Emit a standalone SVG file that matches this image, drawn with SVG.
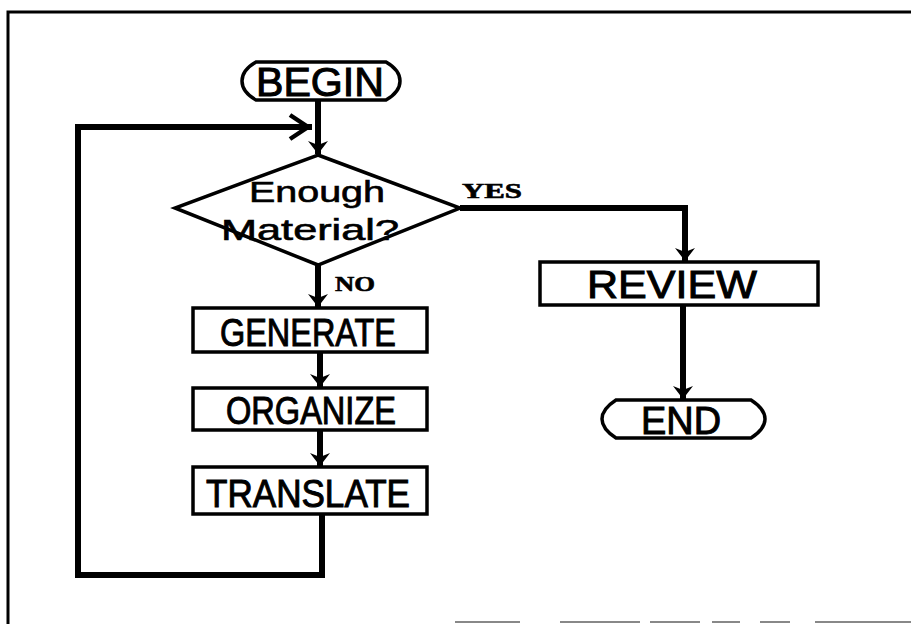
<svg xmlns="http://www.w3.org/2000/svg" width="911" height="624" viewBox="0 0 911 624">
  <style>
    .frame { fill: none; stroke: #000; stroke-width: 3; }
    .shape { fill: #fff; stroke: #000; stroke-width: 3.5; stroke-linejoin: miter; }
    .wire { fill: none; stroke: #000; stroke-width: 6; stroke-linejoin: miter; stroke-linecap: butt; }
    .label { font-family: "Liberation Sans", Arial, sans-serif; fill: #000; stroke: #000; stroke-width: 1; text-anchor: middle; }
    .small { stroke-width: 0.6; }
    .tag { font-family: "Liberation Serif", "Times New Roman", serif; font-weight: bold; fill: #000; stroke: #000; stroke-width: 0.6; font-size: 21px; }
  </style>
  <defs>
    <!-- small filled arrowhead, drawn pointing along +x -->
    <marker id="head" viewBox="0 0 13 20" refX="13" refY="10" markerWidth="13" markerHeight="20" markerUnits="userSpaceOnUse" orient="auto">
      <path d="M0,0 L13,10 L0,20 L4,10 Z" fill="#000"/>
    </marker>
  </defs>

  <rect width="911" height="624" fill="#fff"/>

  <!-- page border -->
  <path class="frame" d="M8,624 L8,12 L911,12"/>
  <path d="M455,622 H520 M560,622 H640 M650,622 H700 M712,622 H740 M760,622 H790 M815,622 H911" stroke="#888" stroke-width="2" fill="none"/>

  <!-- connectors -->
  <g id="connectors">
    <path class="wire" d="M318,100 V154" marker-end="url(#head)"/>
    <path class="wire" d="M322,514 V575 H78 V127 H312"/>
    <path d="M290,115 L308,127 L290,139" fill="none" stroke="#000" stroke-width="4.5"/>
    <path class="wire" d="M460,208 H685 V261" marker-end="url(#head)"/>
    <path class="wire" d="M683,305 V399" marker-end="url(#head)"/>
    <path class="wire" d="M318,265 V307" marker-end="url(#head)"/>
    <path class="wire" d="M320,352 V387" marker-end="url(#head)"/>
    <path class="wire" d="M320,430 V466" marker-end="url(#head)"/>
    <text class="tag" x="462" y="198" textLength="60" lengthAdjust="spacingAndGlyphs">YES</text>
    <text class="tag" x="335" y="291" textLength="40" lengthAdjust="spacingAndGlyphs">NO</text>
  </g>

  <g id="begin">
    <path class="shape" d="M256,62 H386 Q400,70 400,81 Q400,92 386,100 H256 Q242,92 242,81 Q242,70 256,62 Z"/>
    <text class="label" x="320" y="96" font-size="40" textLength="128" lengthAdjust="spacingAndGlyphs">BEGIN</text>
  </g>

  <g id="decision">
    <path class="shape" d="M318,155 L460,208 L318,265 L175,208 Z"/>
    <text class="label small" x="317" y="202" font-size="29" textLength="136" lengthAdjust="spacingAndGlyphs">Enough</text>
    <text class="label small" x="310" y="240" font-size="29" textLength="178" lengthAdjust="spacingAndGlyphs">Material?</text>
  </g>

  <g id="generate">
    <rect class="shape" x="193" y="308" width="234" height="44"/>
    <text class="label" x="308" y="346" font-size="39" textLength="176" lengthAdjust="spacingAndGlyphs">GENERATE</text>
  </g>

  <g id="organize">
    <rect class="shape" x="193" y="388" width="234" height="42"/>
    <text class="label" x="311" y="424" font-size="39" textLength="170" lengthAdjust="spacingAndGlyphs">ORGANIZE</text>
  </g>

  <g id="translate">
    <rect class="shape" x="193" y="467" width="234" height="47"/>
    <text class="label" x="308" y="507" font-size="39" textLength="204" lengthAdjust="spacingAndGlyphs">TRANSLATE</text>
  </g>

  <g id="review">
    <rect class="shape" x="540" y="262" width="278" height="43"/>
    <text class="label" x="672" y="298" font-size="39" textLength="170" lengthAdjust="spacingAndGlyphs">REVIEW</text>
  </g>

  <g id="end">
    <path class="shape" d="M616,400 H751 Q765,409 765,419 Q765,429 751,438 H616 Q602,429 602,419 Q602,409 616,400 Z"/>
    <text class="label" x="681" y="434" font-size="39" textLength="80" lengthAdjust="spacingAndGlyphs">END</text>
  </g>
</svg>
